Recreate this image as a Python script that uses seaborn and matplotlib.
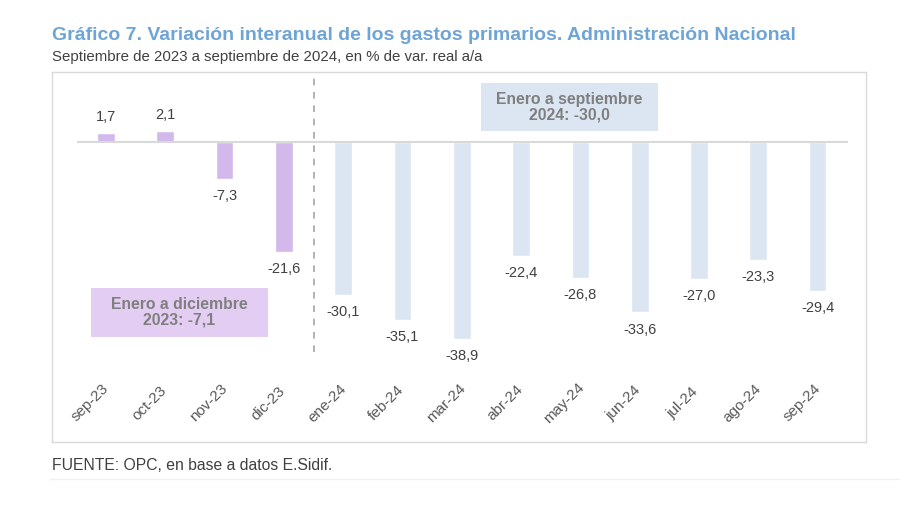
import matplotlib
matplotlib.use("Agg")
import matplotlib.pyplot as plt
from matplotlib.patches import Rectangle
import seaborn as sns
import pandas as pd

months = ["sep-23", "oct-23", "nov-23", "dic-23", "ene-24", "feb-24", "mar-24",
          "abr-24", "may-24", "jun-24", "jul-24", "ago-24", "sep-24"]
values = [1.7, 2.1, -7.3, -21.6, -30.1, -35.1, -38.9, -22.4, -26.8, -33.6, -27.0, -23.3, -29.4]
periods = ["2023"] * 4 + ["2024"] * 9
box_2023 = "Enero a diciembre\n2023: -7,1"
box_2024 = "Enero a septiembre\n2024: -30,0"

title = "Gráfico 7. Variación interanual de los gastos primarios. Administración Nacional"
subtitle = "Septiembre de 2023 a septiembre de 2024, en % de var. real a/a"
source = "FUENTE: OPC, en base a datos E.Sidif."

sns.set_theme(style="white")
plt.rcParams["font.family"] = ["Liberation Sans", "DejaVu Sans"]

df = pd.DataFrame({"mes": months, "valor": values, "periodo": periods})

W, H = 900, 505
fig = plt.figure(figsize=(9, 5.05), dpi=100)
# axes = framed plot area
x0, x1, y0, y1 = 52, 866, 72, 442
ax = fig.add_axes([x0 / W, 1 - y1 / H, (x1 - x0) / W, (y1 - y0) / H])

purple = "#D3B9EB"
blue = "#DCE6F2"
sns.barplot(data=df, x="mes", y="valor", hue="periodo", order=months,
            palette={"2023": purple, "2024": blue}, dodge=False, width=0.3,
            legend=False, ax=ax, saturation=1)

step = 59.3
ax.set_xlim((x0 - 106) / step, (x1 - 106) / step)
ppu = 5.07
ax.set_ylim(-(y1 - 142) / ppu, (142 - y0) / ppu)

ax.set_xticks([])
ax.set_yticks([])
ax.set_xlabel("")
ax.set_ylabel("")
for s in ax.spines.values():
    s.set_color("#D9D9D9")
    s.set_linewidth(1)

ax.hlines(0, -0.49, 12.52, color="#D9D9D9", lw=1.5, zorder=3)
ax.vlines(3.5, -(352 - 142) / ppu, (142 - y0) / ppu, color="#A6A6A6",
          lw=1.2, linestyles=(0, (4, 4)), zorder=3)

txt_color = "#404040"
for i, v in enumerate(values):
    lab = f"{v:.1f}".replace(".", ",")
    if v >= 0:
        ax.text(i, v + 3.2, lab, ha="center", va="center", fontsize=10.5, color=txt_color)
    else:
        ax.text(i, v - 3.4, lab, ha="center", va="center", fontsize=10.5, color=txt_color)
    ax.text(i - 0.27, -(403 - 142) / ppu, months[i], rotation=45, ha="center",
            va="center", fontsize=11, color="#595959")

def box(xl, xr, yt, yb, color, text):
    X0 = (xl - 106) / step
    X1 = (xr - 106) / step
    Y0 = -(yb - 142) / ppu
    Y1 = -(yt - 142) / ppu
    ax.add_patch(Rectangle((X0, Y0), X1 - X0, Y1 - Y0, facecolor=color,
                           edgecolor="none", zorder=2))
    ax.text((X0 + X1) / 2, (Y0 + Y1) / 2, text, ha="center", va="center",
            fontsize=11.3, fontweight="bold", color="#7F7F7F", linespacing=1.05, zorder=4)

box(91, 268, 288, 337, "#E3CDF3", box_2023)
box(481, 658, 83, 131, "#DCE6F2", box_2024)

fig.text(52 / W, 1 - 35 / H, title, ha="left", va="center", fontsize=14,
         fontweight="bold", color="#6FA4D6")
fig.text(52 / W, 1 - 57 / H, subtitle, ha="left", va="center", fontsize=10.8,
         color="#404040")
fig.text(52 / W, 1 - 466 / H, source, ha="left", va="center", fontsize=11.3,
         color="#404040")
fig.add_artist(plt.Line2D([50 / W, 900 / W], [1 - 479 / H, 1 - 479 / H],
                          color="#F0F0F0", lw=1))

fig.savefig("out.png", dpi=100)
